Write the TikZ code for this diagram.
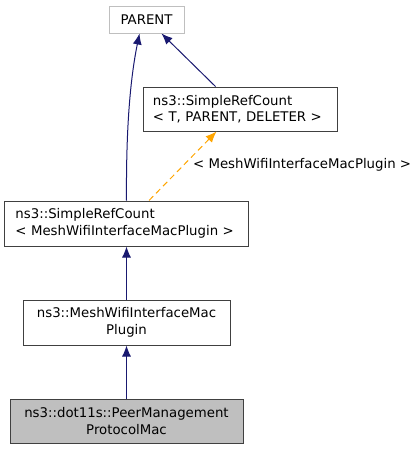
\documentclass[tikz,border=0pt]{standalone}
\usepackage{fontspec}
\setmainfont{DejaVu Sans}
\usetikzlibrary{arrows.meta}
\definecolor{edgeblue}{HTML}{191970}
\definecolor{tmplorange}{HTML}{FFA500}
\definecolor{greyline}{HTML}{BFBFBF}
\tikzset{
  classnode/.style={draw=black!75, fill=white, line width=1pt, inner sep=0pt,
    font=\fontsize{13.3}{16.5}\selectfont},
  inherit/.style={edgeblue, line width=1pt, {Latex[length=11pt,width=9pt]}-},
  templ/.style={tmplorange, line width=1pt, dash pattern=on 6pt off 4pt,
    {Latex[length=11pt,width=9pt]}-}
}
\begin{document}
\begin{tikzpicture}[x=1pt, y=-1pt]
    \useasboundingbox (0, 0) rectangle (420, 451);
    \node [classnode, draw=greyline, minimum width=75pt, minimum height=27pt] (parent) at (146.5, 19.5) {PARENT};
    \node [classnode, minimum width=194pt, minimum height=44pt, text width=174pt, align=left] (srct) at (240, 109) {ns3::SimpleRefCount\\< T, PARENT, DELETER >};
    \node [classnode, minimum width=244pt, minimum height=45pt, text width=222pt, align=left] (srcm) at (126.5, 223.5) {ns3::SimpleRefCount\\< MeshWifiInterfaceMacPlugin >};
    \node [classnode, minimum width=207pt, minimum height=45pt, align=center] (plugin) at (126.5, 322.5) {ns3::MeshWifiInterfaceMac\\Plugin};
    \node [classnode, fill=greyline, minimum width=233pt, minimum height=44pt, align=center] (pmpm) at (126.5, 421) {ns3::dot11s::PeerManagement\\ProtocolMac};
    \coordinate (pleft) at ([xshift=31pt] parent.south west);
    \coordinate (pright) at ([xshift=-23pt] parent.south east);
    \coordinate (tfoot) at ([xshift=74pt] srct.south west);
    \coordinate (mtop) at ([xshift=145pt] srcm.north west);
    \draw [inherit] (pleft) .. controls (130, 80) and (126, 130) .. (srcm.north);
    \draw [inherit] (pright) -- ([xshift=73pt] srct.north west);
    \draw [templ] (tfoot) -- (mtop);
    \node [anchor=west, font=\fontsize{13.3}{16.5}\selectfont, inner sep=0pt] (arg) at (193, 165) {< MeshWifiInterfaceMacPlugin >};
    \draw [inherit] (srcm.south) -- (plugin.north);
    \draw [inherit] (plugin.south) -- (pmpm.north);
\end{tikzpicture}
\end{document}
